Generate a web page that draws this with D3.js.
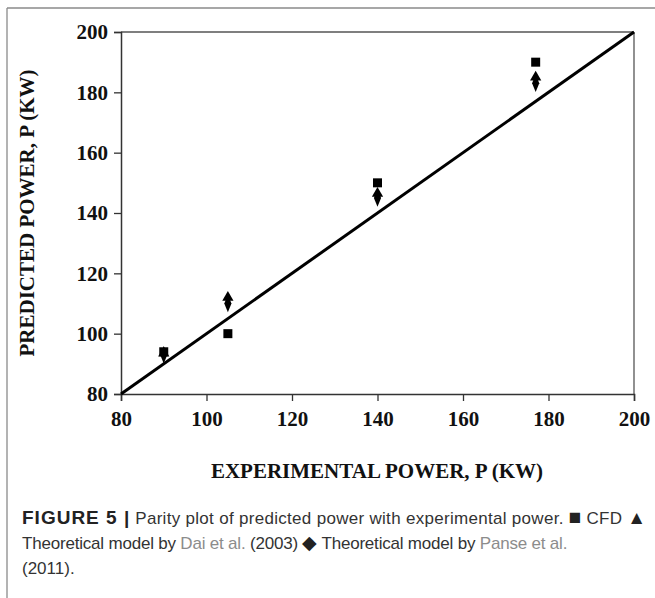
<!DOCTYPE html>
<html><head><meta charset="utf-8">
<script src="https://cdn.jsdelivr.net/npm/d3@7/dist/d3.min.js"></script>
<style>body{margin:0;background:#fff}svg{display:block}</style>
</head><body>
<script>
const experimental = [90, 105, 140, 177];
const cfd = [94, 100, 150, 190];
const dai = [93.5, 112, 146.5, 185];
const panse = [93, 110, 145, 183];
const xTicks = [80, 100, 120, 140, 160, 180, 200];
const yTicks = [80, 100, 120, 140, 160, 180, 200];

const W = 655, H = 598;
const svg = d3.select("body").append("svg").attr("width", W).attr("height", H);

// frame
svg.append("line").attr("x1", 7).attr("x2", W).attr("y1", 8).attr("y2", 8).attr("stroke", "#8a8a8a").attr("stroke-width", 1.3);
svg.append("line").attr("x1", 7).attr("x2", 7).attr("y1", 8).attr("y2", H).attr("stroke", "#8a8a8a").attr("stroke-width", 1.3);

const x = d3.scaleLinear().domain([80, 200]).range([121, 634]);
const y = d3.scaleLinear().domain([80, 200]).range([394, 32]);

// top and right border
svg.append("line").attr("x1", x(80)).attr("x2", x(200)).attr("y1", y(200)).attr("y2", y(200)).attr("stroke", "#555").attr("stroke-width", 1.3);
svg.append("line").attr("x1", x(200)).attr("x2", x(200)).attr("y1", y(200)).attr("y2", y(80)).attr("stroke", "#555").attr("stroke-width", 1.3);

const xAxis = svg.append("g").attr("transform", `translate(0,${y(80)})`)
  .call(d3.axisBottom(x).tickValues(xTicks).tickSize(7).tickPadding(10).tickFormat(d3.format("d")));
const yAxis = svg.append("g").attr("transform", `translate(${x(80)},0)`)
  .call(d3.axisLeft(y).tickValues(yTicks).tickSize(7).tickPadding(6).tickFormat(d3.format("d")));
[xAxis, yAxis].forEach(g => {
  g.select(".domain").attr("stroke", "#333").attr("stroke-width", 1.5);
  g.selectAll(".tick line").attr("stroke", "#333").attr("stroke-width", 1.3);
  g.selectAll("text").attr("font-family", "'Liberation Serif', serif").attr("font-weight", "bold")
    .attr("font-size", 21).attr("fill", "#111");
});

// parity line
svg.append("line").attr("x1", x(80)).attr("y1", y(80)).attr("x2", x(200)).attr("y2", y(200))
  .attr("stroke", "#000").attr("stroke-width", 3);

// markers
const sym = (type, size) => d3.symbol().type(type).size(size)();
svg.selectAll(".dai").data(experimental).join("path")
  .attr("transform", (d, i) => `translate(${x(d)},${y(dai[i])})`)
  .attr("d", sym(d3.symbolTriangle, 55)).attr("fill", "#000");
svg.selectAll(".panse").data(experimental).join("path")
  .attr("transform", (d, i) => `translate(${x(d)},${y(panse[i])}) scale(0.75,1.05)`)
  .attr("d", sym(d3.symbolDiamond, 80)).attr("fill", "#000");
svg.selectAll(".cfd").data(experimental).join("path")
  .attr("transform", (d, i) => `translate(${x(d)},${y(cfd[i])})`)
  .attr("d", sym(d3.symbolSquare, 81)).attr("fill", "#000");

// axis titles
svg.append("text").attr("x", 377).attr("y", 478).attr("text-anchor", "middle")
  .attr("font-family", "'Liberation Serif', serif").attr("font-weight", "bold").attr("font-size", 21).attr("fill", "#111")
  .text("EXPERIMENTAL POWER, P (KW)");
svg.append("text").attr("transform", "translate(34,213) rotate(-90)").attr("text-anchor", "middle")
  .attr("font-family", "'Liberation Serif', serif").attr("font-weight", "bold").attr("font-size", 21).attr("fill", "#111")
  .text("PREDICTED POWER, P (KW)");

// caption
const cap = svg.append("g").attr("font-family", "'Liberation Sans', Arial, sans-serif").attr("font-size", 17).attr("fill", "#333");
const l1 = cap.append("text").attr("x", 22).attr("y", 524);
l1.append("tspan").attr("font-weight", "bold").attr("font-size", 19).attr("letter-spacing", 1).attr("fill", "#222").text("FIGURE 5 |");
l1.append("tspan").attr("letter-spacing", 0.3).text(" Parity plot of predicted power with experimental power. ");
l1.append("tspan").attr("font-size", 21).attr("fill", "#222").text("\u25A0");
l1.append("tspan").attr("letter-spacing", 0.3).text(" CFD ");
l1.append("tspan").attr("font-size", 19).attr("fill", "#222").text("\u25B2");
const l2 = cap.append("text").attr("x", 22).attr("y", 549).attr("letter-spacing", -0.2);
l2.append("tspan").text("Theoretical model by ");
l2.append("tspan").attr("fill", "#8c8c8c").text("Dai et al.");
l2.append("tspan").text(" (2003) ");
l2.append("tspan").attr("font-size", 19).attr("fill", "#222").text("\u25C6");
l2.append("tspan").text(" Theoretical model by ");
l2.append("tspan").attr("fill", "#8c8c8c").text("Panse et al.");
cap.append("text").attr("x", 22).attr("y", 574).text("(2011).");
</script>
</body></html>
